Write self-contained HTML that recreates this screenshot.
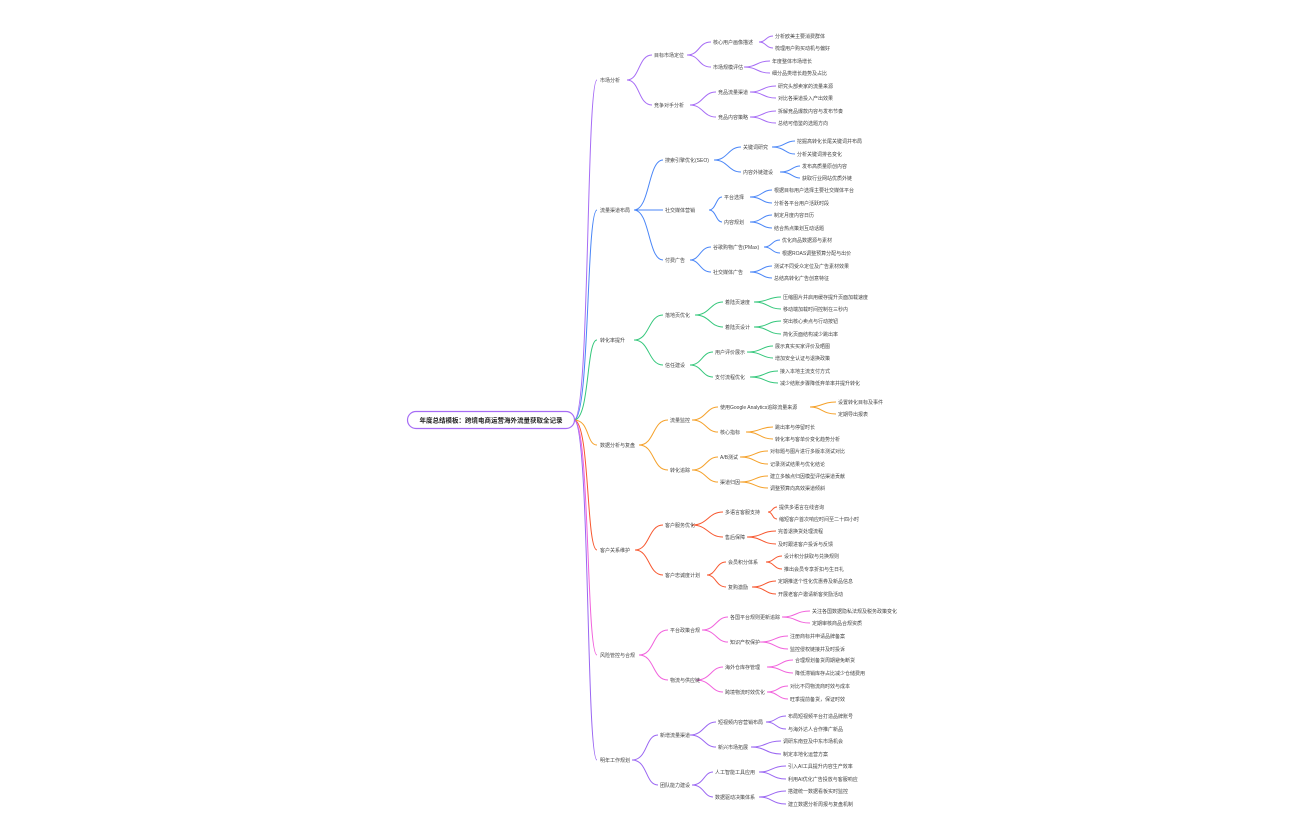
<!DOCTYPE html>
<html><head><meta charset="utf-8"><style>
html,body{margin:0;padding:0;background:#fff;width:1296px;height:840px;overflow:hidden}
svg text{font-family:"Liberation Sans","Noto Sans CJK SC",sans-serif;font-size:5px;fill:#444}
path{fill:none;stroke-width:1}
</style></head><body>
<svg width="1296" height="840" viewBox="0 0 1296 840" xmlns="http://www.w3.org/2000/svg">
<g stroke-width="1.3">
<path d="M574,420 C590,420 586,80 597,80" stroke="#a66cf5"/>
<path d="M574,420 C590,420 586,210 597,210" stroke="#4a86f7"/>
<path d="M574,420 C590,420 586,340 597,340" stroke="#34c77b"/>
<path d="M574,420 C590,420 586,445 597,445" stroke="#f5a12a"/>
<path d="M574,420 C590,420 586,550 597,550" stroke="#f7572f"/>
<path d="M574,420 C590,420 586,655 597,655" stroke="#f162dc"/>
<path d="M574,420 C590,420 586,760 597,760" stroke="#9a66f2"/>
</g>
<rect x="407.5" y="411.5" width="167" height="17" rx="8.5" fill="#fff" stroke="#a66cf5" stroke-width="1.2"/>
<text x="491" y="422.5" text-anchor="middle" style="font-size:6.5px;font-weight:bold;fill:#222">年度总结模板：跨境电商运营海外流量获取全记录</text>

<!-- Branch 1 -->
<g stroke="#a66cf5">
<path d="M627,80 C640,80 638,55 652,55"/><path d="M627,80 C640,80 638,105 652,105"/>
<path d="M687,55 C700,55 698,42 711,42"/><path d="M687,55 C700,55 698,67 711,67"/>
<path d="M690,105 C703,105 703,92 716,92"/><path d="M690,105 C703,105 703,117 716,117"/>
<path d="M759,42 C766,42 766,36 773,36"/><path d="M759,42 C766,42 766,48 773,48"/>
<path d="M744,67 C757,67 757,61 770,61"/><path d="M744,67 C757,67 757,73 770,73"/>
<path d="M750,92 C763,92 763,86 776,86"/><path d="M750,92 C763,92 763,98 776,98"/>
<path d="M750,117 C763,117 763,111 776,111"/><path d="M750,117 C763,117 763,123 776,123"/>
</g>
<text x="600" y="82">市场分析</text>
<text x="654" y="57">目标市场定位</text><text x="654" y="107">竞争对手分析</text>
<text x="713" y="44">核心用户画像描述</text><text x="713" y="69">市场规模评估</text>
<text x="718" y="94">竞品流量渠道</text><text x="718" y="119">竞品内容策略</text>
<text x="775" y="38">分析欧美主要消费群体</text><text x="775" y="50">梳理用户购买动机与偏好</text>
<text x="772" y="63">年度整体市场增长</text><text x="772" y="75">细分品类增长趋势及占比</text>
<text x="778" y="88">研究头部卖家的流量来源</text><text x="778" y="100">对比各渠道投入产出效果</text>
<text x="778" y="113">拆解竞品爆款内容与发布节奏</text><text x="778" y="125">总结可借鉴的选题方向</text>

<!-- Branch 2 -->
<g stroke="#4a86f7">
<path d="M634,210 C650,210 648,160 663,160"/><path d="M634,210 L663,210"/><path d="M634,210 C650,210 648,260 663,260"/>
<path d="M714,160 C728,160 728,147 741,147"/><path d="M714,160 C728,160 728,172 741,172"/>
<path d="M709,210 C716,210 716,197 722,197"/><path d="M709,210 C716,210 716,222 722,222"/>
<path d="M690,260 C700,260 700,247 711,247"/><path d="M690,260 C700,260 700,272 711,272"/>
<path d="M772,147 C785,147 785,141 795,141"/><path d="M772,147 C785,147 785,154 795,154"/>
<path d="M780,172 C792,172 792,166 800,166"/><path d="M780,172 C792,172 792,178 800,178"/>
<path d="M750,197 C762,197 762,190 772,190"/><path d="M750,197 C762,197 762,203 772,203"/>
<path d="M750,222 C762,222 762,215 772,215"/><path d="M750,222 C762,222 762,228 772,228"/>
<path d="M764,247 C772,247 772,240 780,240"/><path d="M764,247 C772,247 772,253 780,253"/>
<path d="M750,272 C762,272 762,266 772,266"/><path d="M750,272 C762,272 762,278 772,278"/>
</g>
<text x="600" y="212">流量渠道布局</text>
<text x="665" y="162">搜索引擎优化(SEO)</text><text x="665" y="212">社交媒体营销</text><text x="665" y="262">付费广告</text>
<text x="743" y="149">关键词研究</text><text x="743" y="174">内容外链建设</text>
<text x="724" y="199">平台选择</text><text x="724" y="224">内容规划</text>
<text x="713" y="249">谷歌购物广告(PMax)</text><text x="713" y="274">社交媒体广告</text>
<text x="797" y="143">挖掘高转化长尾关键词并布局</text><text x="797" y="156">分析关键词排名变化</text>
<text x="802" y="168">发布高质量原创内容</text><text x="802" y="180">获取行业网站优质外链</text>
<text x="774" y="192">根据目标用户选择主要社交媒体平台</text><text x="774" y="205">分析各平台用户活跃时段</text>
<text x="774" y="217">制定月度内容日历</text><text x="774" y="230">结合热点策划互动话题</text>
<text x="782" y="242">优化商品数据源与素材</text><text x="782" y="255">根据ROAS调整预算分配与出价</text>
<text x="774" y="268">测试不同受众定位及广告素材效果</text><text x="774" y="280">总结高转化广告创意特征</text>

<!-- Branch 3 -->
<g stroke="#34c77b">
<path d="M634,340 C650,340 648,315 663,315"/><path d="M634,340 C650,340 648,365 663,365"/>
<path d="M695,315 C710,315 710,302 723,302"/><path d="M695,315 C710,315 710,327 723,327"/>
<path d="M690,365 C702,365 702,352 713,352"/><path d="M690,365 C702,365 702,377 713,377"/>
<path d="M754,302 C768,302 768,297 781,297"/><path d="M754,302 C768,302 768,309 781,309"/>
<path d="M754,327 C768,327 768,321 781,321"/><path d="M754,327 C768,327 768,334 781,334"/>
<path d="M747,352 C762,352 762,346 773,346"/><path d="M747,352 C762,352 762,358 773,358"/>
<path d="M750,377 C765,377 765,371 778,371"/><path d="M750,377 C765,377 765,383 778,383"/>
</g>
<text x="600" y="342">转化率提升</text>
<text x="665" y="317">落地页优化</text><text x="665" y="367">信任建设</text>
<text x="725" y="304">着陆页速度</text><text x="725" y="329">着陆页设计</text>
<text x="715" y="354">用户评价展示</text><text x="715" y="379">支付流程优化</text>
<text x="783" y="299">压缩图片并启用缓存提升页面加载速度</text><text x="783" y="311">移动端加载时间控制在三秒内</text>
<text x="783" y="323">突出核心卖点与行动按钮</text><text x="783" y="336">简化页面结构减少跳出率</text>
<text x="775" y="348">展示真实买家评价及晒图</text><text x="775" y="360">增加安全认证与退换政策</text>
<text x="780" y="373">接入本地主流支付方式</text><text x="780" y="385">减少结账步骤降低弃单率并提升转化</text>

<!-- Branch 4 -->
<g stroke="#f5a12a">
<path d="M639,445 C655,445 652,420 668,420"/><path d="M639,445 C655,445 652,470 668,470"/>
<path d="M692,420 C706,420 706,407 718,407"/><path d="M692,420 C706,420 706,432 718,432"/>
<path d="M692,470 C706,470 706,457 718,457"/><path d="M692,470 C706,470 706,482 718,482"/>
<path d="M810,407 C822,407 822,402 836,402"/><path d="M810,407 C822,407 822,414 836,414"/>
<path d="M746,432 C760,432 760,427 773,427"/><path d="M746,432 C760,432 760,439 773,439"/>
<path d="M740,457 C755,457 755,451 768,451"/><path d="M740,457 C755,457 755,464 768,464"/>
<path d="M740,482 C755,482 755,476 768,476"/><path d="M740,482 C755,482 755,488 768,488"/>
</g>
<text x="600" y="447">数据分析与复盘</text>
<text x="670" y="422">流量监控</text><text x="670" y="472">转化追踪</text>
<text x="720" y="409">使用Google Analytics追踪流量来源</text><text x="720" y="434">核心指标</text>
<text x="720" y="459">A/B测试</text><text x="720" y="484">渠道归因</text>
<text x="838" y="404">设置转化目标及事件</text><text x="838" y="416">定期导出报表</text>
<text x="775" y="429">跳出率与停留时长</text><text x="775" y="441">转化率与客单价变化趋势分析</text>
<text x="770" y="453">对标题与图片进行多版本测试对比</text><text x="770" y="466">记录测试结果与优化结论</text>
<text x="770" y="478">建立多触点归因模型评估渠道贡献</text><text x="770" y="490">调整预算向高效渠道倾斜</text>

<!-- Branch 5 -->
<g stroke="#f7572f">
<path d="M635,550 C650,550 648,525 663,525"/><path d="M635,550 C650,550 648,575 663,575"/>
<path d="M692,525 C708,525 708,512 723,512"/><path d="M692,525 C708,525 708,537 723,537"/>
<path d="M707,575 C716,575 716,562 726,562"/><path d="M707,575 C716,575 716,587 726,587"/>
<path d="M768,512 C773,512 772,507 777,507"/><path d="M768,512 C773,512 772,519 777,519"/>
<path d="M747,537 C762,537 762,531 776,531"/><path d="M747,537 C762,537 762,544 776,544"/>
<path d="M766,562 C774,562 774,556 782,556"/><path d="M766,562 C774,562 774,569 782,569"/>
<path d="M752,587 C765,587 765,581 776,581"/><path d="M752,587 C765,587 765,594 776,594"/>
</g>
<text x="600" y="552">客户关系维护</text>
<text x="665" y="527">客户服务优化</text><text x="665" y="577">客户忠诚度计划</text>
<text x="725" y="514">多语言客服支持</text><text x="725" y="539">售后保障</text>
<text x="728" y="564">会员积分体系</text><text x="728" y="589">复购激励</text>
<text x="779" y="509">提供多语言在线咨询</text><text x="779" y="521">缩短客户首次响应时间至二十四小时</text>
<text x="778" y="533">完善退换货处理流程</text><text x="778" y="546">及时跟进客户投诉与反馈</text>
<text x="784" y="558">设计积分获取与兑换规则</text><text x="784" y="571">推出会员专享折扣与生日礼</text>
<text x="778" y="583">定期推送个性化优惠券及新品信息</text><text x="778" y="596">开展老客户邀请新客奖励活动</text>

<!-- Branch 6 -->
<g stroke="#f162dc">
<path d="M639,655 C655,655 652,630 668,630"/><path d="M639,655 C655,655 652,680 668,680"/>
<path d="M702,630 C716,630 716,617 728,617"/><path d="M702,630 C716,630 716,642 728,642"/>
<path d="M696,680 C711,680 711,667 723,667"/><path d="M696,680 C711,680 711,692 723,692"/>
<path d="M782,617 C796,617 796,611 810,611"/><path d="M782,617 C796,617 796,623 810,623"/>
<path d="M760,642 C775,642 775,636 788,636"/><path d="M760,642 C775,642 775,649 788,649"/>
<path d="M767,667 C781,667 781,660 793,660"/><path d="M767,667 C781,667 781,673 793,673"/>
<path d="M767,692 C778,692 778,686 788,686"/><path d="M767,692 C778,692 778,699 788,699"/>
</g>
<text x="600" y="657">风险管控与合规</text>
<text x="670" y="632">平台政策合规</text><text x="670" y="682">物流与供应链</text>
<text x="730" y="619">各国平台规则更新追踪</text><text x="730" y="644">知识产权保护</text>
<text x="725" y="669">海外仓库存管理</text><text x="725" y="694">跨境物流时效优化</text>
<text x="812" y="613">关注各国数据隐私法规及税务政策变化</text><text x="812" y="625">定期审核商品合规资质</text>
<text x="790" y="638">注册商标并申请品牌备案</text><text x="790" y="651">监控侵权链接并及时投诉</text>
<text x="795" y="662">合理规划备货周期避免断货</text><text x="795" y="675">降低滞销库存占比减少仓储费用</text>
<text x="790" y="688">对比不同物流商时效与成本</text><text x="790" y="701">旺季提前备货，保证时效</text>

<!-- Branch 7 -->
<g stroke="#9a66f2">
<path d="M632,760 C648,760 645,735 658,735"/><path d="M632,760 C648,760 645,785 658,785"/>
<path d="M690,735 C704,735 704,722 716,722"/><path d="M690,735 C704,735 704,747 716,747"/>
<path d="M692,785 C704,785 704,772 713,772"/><path d="M692,785 C704,785 704,797 713,797"/>
<path d="M766,722 C776,722 776,716 786,716"/><path d="M766,722 C776,722 776,729 786,729"/>
<path d="M751,747 C766,747 766,741 781,741"/><path d="M751,747 C766,747 766,754 781,754"/>
<path d="M759,772 C772,772 772,766 786,766"/><path d="M759,772 C772,772 772,779 786,779"/>
<path d="M759,797 C772,797 772,791 786,791"/><path d="M759,797 C772,797 772,804 786,804"/>
</g>
<text x="600" y="762">明年工作规划</text>
<text x="660" y="737">新增流量渠道</text><text x="660" y="787">团队能力建设</text>
<text x="718" y="724">短视频内容营销布局</text><text x="718" y="749">新兴市场拓展</text>
<text x="715" y="774">人工智能工具应用</text><text x="715" y="799">数据驱动决策体系</text>
<text x="788" y="718">布局短视频平台打造品牌账号</text><text x="788" y="731">与海外达人合作推广新品</text>
<text x="783" y="743">调研东南亚及中东市场机会</text><text x="783" y="756">制定本地化运营方案</text>
<text x="788" y="768">引入AI工具提升内容生产效率</text><text x="788" y="781">利用AI优化广告投放与客服响应</text>
<text x="788" y="793">搭建统一数据看板实时监控</text><text x="788" y="806">建立数据分析周报与复盘机制</text>
</svg>
</body></html>
